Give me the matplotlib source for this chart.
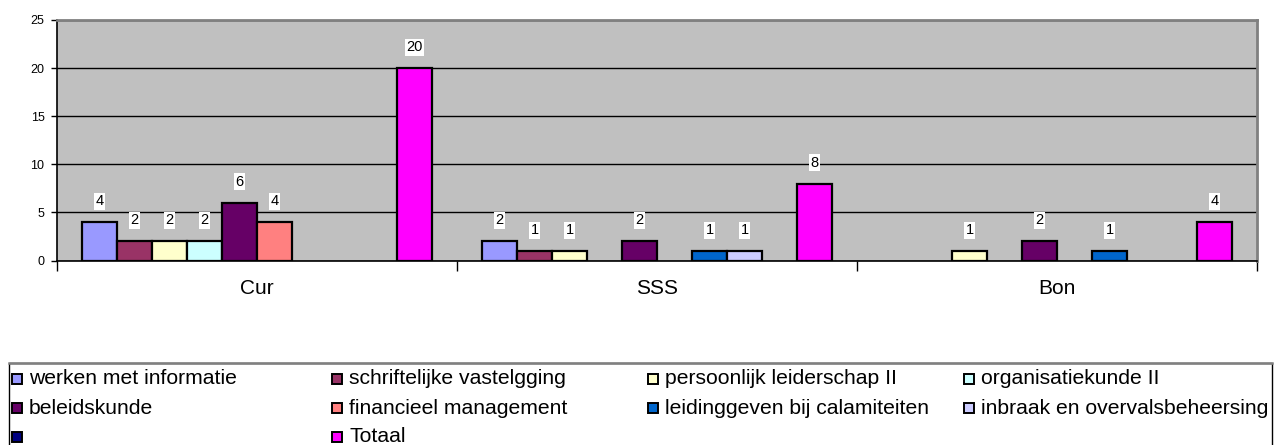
import matplotlib
matplotlib.use("Agg")
import matplotlib.pyplot as plt
from matplotlib.patches import Rectangle
import numpy as np

plt.rcParams['font.family'] = ['Liberation Sans', 'DejaVu Sans']

categories = ["Cur", "SSS", "Bon"]
series_names = [
    "werken met informatie",
    "schriftelijke vastelgging",
    "persoonlijk leiderschap II",
    "organisatiekunde II",
    "beleidskunde",
    "financieel management",
    "leidinggeven bij calamiteiten",
    "inbraak en overvalsbeheersing",
    "",
    "Totaal",
]
werken = [4, 2, 0]
schriftelijke = [2, 1, 0]
persoonlijk = [2, 1, 1]
organisatiekunde = [2, 0, 0]
beleidskunde = [6, 2, 2]
financieel = [4, 0, 0]
leidinggeven = [0, 1, 1]
inbraak = [0, 1, 0]
blanco = [0, 0, 0]
totaal = [20, 8, 4]
series_values = [werken, schriftelijke, persoonlijk, organisatiekunde,
                 beleidskunde, financieel, leidinggeven, inbraak, blanco, totaal]
colors = ["#9999FF", "#993366", "#FFFFCC", "#CCFFFF", "#660066",
          "#FF8080", "#0066CC", "#CCCCFF", "#000080", "#FF00FF"]
yticks = [0, 5, 10, 15, 20, 25]

W, H = 1276, 445
fig = plt.figure(figsize=(W / 100, H / 100), dpi=100)
ax = fig.add_axes([57 / W, (H - 260.5) / H, 1200 / W, 240.5 / H])
ax.set_facecolor("#C0C0C0")

n = len(series_names)
bw = 0.0875
x = np.arange(len(categories))
for j, (vals, c) in enumerate(zip(series_values, colors)):
    off = (j - (n - 1) / 2) * bw
    for i, v in enumerate(vals):
        if v == 0:
            continue
        ax.bar(x[i] + off, v, width=bw, color=c, edgecolor="black",
               linewidth=1.6, zorder=3)
        ax.annotate(str(v), (x[i] + off, v), xytext=(0, 15),
                    textcoords="offset points", ha="center", va="center",
                    fontsize=10.5, zorder=5,
                    bbox=dict(boxstyle="square,pad=0.1", fc="white", ec="none"))

ax.set_xlim(-0.5, len(categories) - 0.5)
ax.set_ylim(0, 25)
ax.set_yticks(yticks)
ax.set_yticklabels([str(t) for t in yticks], fontsize=9)
ax.yaxis.grid(True, color="black", linewidth=1.0, zorder=1)
ax.set_axisbelow(True)
ax.tick_params(axis="y", direction="out", length=4, width=1, pad=5)

ax.set_xticks(np.arange(len(categories) + 1) - 0.5)
ax.set_xticklabels([])
ax.tick_params(axis="x", which="major", direction="out", length=7, width=1)
ax.set_xticks(x, minor=True)
ax.set_xticklabels(categories, minor=True, fontsize=15)
ax.tick_params(axis="x", which="minor", length=0, pad=13)

for s in ["left", "bottom"]:
    ax.spines[s].set_color("black")
    ax.spines[s].set_linewidth(1.2)
for s in ["top", "right"]:
    ax.spines[s].set_color("#808080")
    ax.spines[s].set_linewidth(2.0)

# legend (pixel-space overlay)
ov = fig.add_axes([0, 0, 1, 1])
ov.set_xlim(0, W)
ov.set_ylim(H, 0)
ov.axis("off")
ov.add_patch(Rectangle((8.5, 363), 1263, 120, fill=False, edgecolor="black",
                       linewidth=1.0, clip_on=False))
ov.plot([8.5, 1271.5], [363, 363], color="#808080", linewidth=1.8)
col_x = [12, 332, 648, 964]
row_y = [379, 408, 437]
for k, (name, c) in enumerate(zip(series_names, colors)):
    r, cc = divmod(k, 4)
    mx, my = col_x[cc], row_y[r]
    ov.add_patch(Rectangle((mx, my - 5), 10, 10, facecolor=c,
                           edgecolor="black", linewidth=1.4))
    ov.text(mx + 17, my, name, fontsize=15.2, va="center", ha="left",
            clip_on=True)

fig.savefig("out.png", dpi=100)
